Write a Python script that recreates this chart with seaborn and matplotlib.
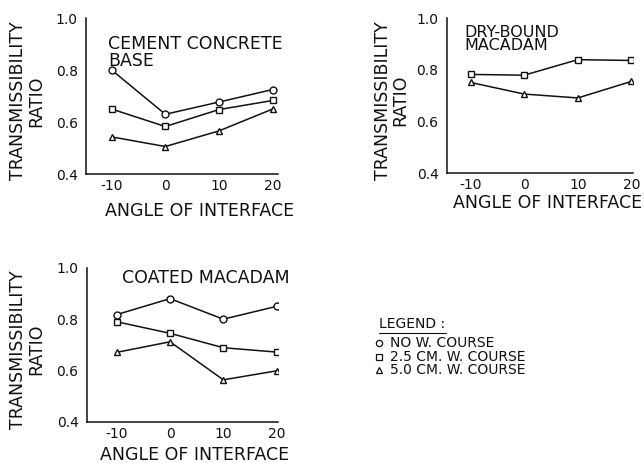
import matplotlib
matplotlib.use("Agg")
import matplotlib.pyplot as plt
import seaborn as sns
import pandas as pd

sns.set_theme(style="white")
plt.rcParams['font.family'] = ['DejaVu Sans']

angles = [-10, 0, 10, 20]
courses = ["NO W. COURSE", "2.5 CM. W. COURSE", "5.0 CM. W. COURSE"]

cement_none = [0.80, 0.63, 0.677, 0.725]
cement_25 = [0.65, 0.583, 0.648, 0.683]
cement_50 = [0.543, 0.506, 0.566, 0.650]

dry_25 = [0.782, 0.779, 0.839, 0.836]
dry_50 = [0.751, 0.706, 0.691, 0.755]

coated_none = [0.818, 0.88, 0.80, 0.850]
coated_25 = [0.790, 0.745, 0.689, 0.672]
coated_50 = [0.671, 0.712, 0.564, 0.599]

y_ticks = [0.4, 0.6, 0.8, 1.0]
y_ticklabels = ["0.4", "0.6", "0.8", "1.0"]
x_ticklabels = ["-10", "0", "10", "20"]


def frame(series):
    rows = []
    for course, vals in series:
        for a, v in zip(angles, vals):
            rows.append({"angle": a, "ratio": v, "course": course})
    return pd.DataFrame(rows)


markers = {courses[0]: "o", courses[1]: "s", courses[2]: "^"}

fig = plt.figure(figsize=(6.44, 4.63), dpi=100)

# rect, xlim, series, title, title pos, title size, title linespacing, ylabel x, xlabel (x,y)
panels = [
    ([0.1335, 0.624, 0.298, 0.337], (-14.8, 21.0),
     [(courses[0], cement_none), (courses[1], cement_25), (courses[2], cement_50)],
     "CEMENT CONCRETE\nBASE", (-10.7, 0.935), 12.5, 0.95, -0.213, (0.59, -0.18)),
    ([0.694, 0.626, 0.289, 0.335], (-14.4, 20.3),
     [(courses[1], dry_25), (courses[2], dry_50)],
     "DRY-BOUND\nMACADAM", (-11.1, 0.975), 11.5, 0.9, -0.20, (0.54, -0.135)),
    ([0.135, 0.0886, 0.297, 0.333], (-15.6, 20.3),
     [(courses[0], coated_none), (courses[1], coated_25), (courses[2], coated_50)],
     "COATED MACADAM", (-9.1, 0.995), 12.5, 1.0, -0.22, (0.565, -0.155)),
]

ink = "#111111"
for rect, xlim, series, title, tpos, tsize, tls, ylx, xl in panels:
    ax = fig.add_axes(rect)
    df = frame(series)
    sns.lineplot(data=df, x="angle", y="ratio", style="course", markers=markers,
                 dashes=False, color=ink, linewidth=1.1, markersize=5,
                 markerfacecolor="white", markeredgecolor=ink, markeredgewidth=1.0,
                 legend=False, errorbar=None, ax=ax)
    ax.set_xlim(*xlim)
    ax.set_ylim(0.4, 1.0)
    ax.set_yticks(y_ticks)
    ax.set_yticklabels(y_ticklabels)
    ax.set_xticks(angles)
    ax.set_xticklabels(x_ticklabels)
    for s in ["top", "right"]:
        ax.spines[s].set_visible(False)
    for s in ["left", "bottom"]:
        ax.spines[s].set_color(ink)
        ax.spines[s].set_linewidth(1.1)
    ax.tick_params(axis="x", labelsize=10, colors=ink, length=0, pad=3.5)
    ax.tick_params(axis="y", labelsize=10, colors=ink, length=0, pad=6)
    ax.set_xlabel("ANGLE OF INTERFACE", fontsize=12.5, color=ink)
    ax.xaxis.set_label_coords(xl[0], xl[1])
    ax.set_ylabel("TRANSMISSIBILITY\nRATIO", fontsize=12.5, color=ink,
                  linespacing=1.0, ha="center")
    ax.yaxis.set_label_coords(ylx, 0.47)
    ax.text(tpos[0], tpos[1], title, fontsize=tsize, color=ink, va="top",
            ha="left", linespacing=tls)
    ax.set_facecolor("white")

fig.text(0.588, 0.300, "LEGEND :", fontsize=10, color=ink, va="center", ha="left")
fig.add_artist(plt.Line2D([0.588, 0.692], [0.281, 0.281], color=ink, lw=0.8))
leg_y = [0.260, 0.230, 0.200]
leg_m = ["o", "s", "^"]
for yy, mk, lab in zip(leg_y, leg_m, courses):
    fig.add_artist(plt.Line2D([0.589], [yy], marker=mk, markersize=4.5,
                              markerfacecolor="white", markeredgecolor=ink,
                              markeredgewidth=0.9, linestyle="none"))
    fig.text(0.605, yy, lab, fontsize=10, color=ink, va="center", ha="left")

fig.savefig("out.png", dpi=100, facecolor="white")
